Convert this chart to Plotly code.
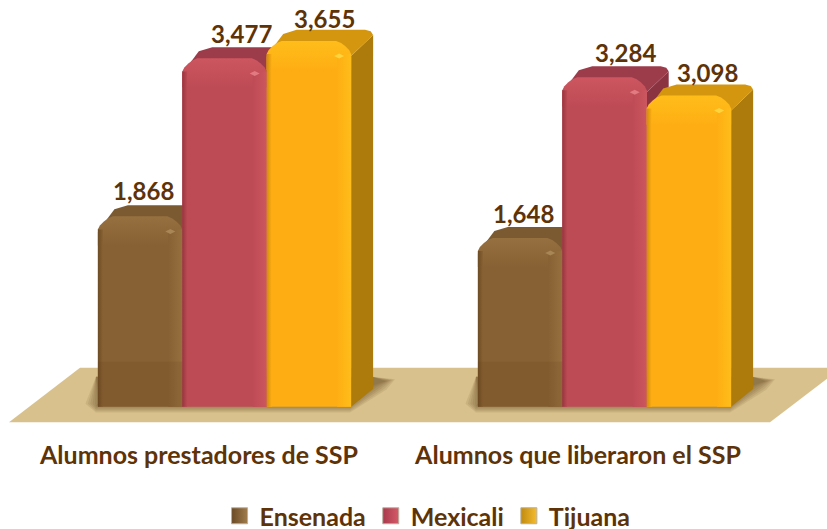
import plotly.graph_objects as go

categories = ["Alumnos prestadores de SSP", "Alumnos que liberaron el SSP"]
series_names = ["Ensenada", "Mexicali", "Tijuana"]
ensenada = [1868, 1648]
mexicali = [3477, 3284]
tijuana = [3655, 3098]
series_values = [ensenada, mexicali, tijuana]

front = ["#876133", "#bd4b55", "#feae13"]
lighter = ["#96703f", "#cd5660", "#ffbd1a"]
darker = ["#6d4c24", "#97343f", "#d08c0c"]
glint = ["#a98656", "#e27a82", "#ffd43c"]
top_col = ["#7b5a31", "#9c3c4a", "#d4960f"]
side_col = ["#6d4f2a", "#8c3342", "#ad7b0b"]
swatch = ["#6b4a25", "#a83a4c", "#c08a10"]
swatch_light = ["#a07c4c", "#d65a68", "#f5bc2e"]
text_col = "#5e3308"
font = "Lato"

W, H = 827, 529
PLOT_H = 492           # plot height left once the legend has reserved its room
AXIS_PX = 437          # pixel row of the x axis line
ZERO_PX = 406          # pixel row of value 0
PX_PER_UNIT_Y = 0.098
PX_PER_GROUP = 380
G0_PX = 224.5
BAR_PX = 84.4
DX_PX, DY_PX = 22, 18

xr = [-G0_PX / PX_PER_GROUP, (W - G0_PX) / PX_PER_GROUP]
yr = [-(PLOT_H - ZERO_PX) / PX_PER_UNIT_Y, ZERO_PX / PX_PER_UNIT_Y]
ux = 1 / PX_PER_GROUP
uy = 1 / PX_PER_UNIT_Y
w = BAR_PX * ux
dx, dy = DX_PX * ux, DY_PX * uy


def paper(pts):
    return "M" + "L".join(f"{x / W:.5f},{1 - y / PLOT_H:.5f}" for x, y in pts) + "Z"


shapes = [dict(type="path", xref="paper", yref="paper", layer="below", line_width=0,
               fillcolor="#d8c18d",
               path=paper([(9, 421.5), (770, 421.5), (827, 378), (827, 367), (80, 367)]))]
# soft contact shadows on the floor
for g0 in (0, 380):
    for k in range(7):
        g = 7 - k * 1.6
        shapes.append(dict(type="path", xref="paper", yref="paper", layer="below", line_width=0,
                           fillcolor="rgba(85,55,20,0.10)",
                           path=paper([(g0 + 96 - g * 1.5, 403), (g0 + 96, 406 + g * .8), (g0 + 350, 406 + g * .8),
                                       (g0 + 376 + g * 1.5, 386 + g * .4), (g0 + 388 + g, 380 - g * .2),
                                       (g0 + 372, 376), (g0 + 96, 376)])))

fig = go.Figure()

# depth faces (lowest layer, drawn back to front)
for s, name in enumerate(series_names):
    for g, v in enumerate(series_values[s]):
        x0 = g + (s - 1) * w - w / 2
        x1 = x0 + w
        c = 8 * ux
        cy = 5 * uy
        fig.add_trace(go.Scatter(
            x=[x1, x1 + dx, x1 + dx, x1], y=[0, dy, v + dy - cy, v - 8 * uy], mode="lines", fill="toself",
            fillcolor=side_col[s], line=dict(width=0), showlegend=False, hoverinfo="skip"))
        fig.add_trace(go.Scatter(
            x=[x0, x1, x1 + dx, x1 + dx - c * .3, x1 + dx - c, x0 + dx + c, x0 + dx * .75],
            y=[v - 8 * uy, v - 8 * uy, v + dy - cy, v + dy - cy * .3, v + dy, v + dy, v + dy - 4 * uy],
            mode="lines", fill="toself", fillcolor=top_col[s], line=dict(width=0),
            showlegend=False, hoverinfo="skip"))

# legend keys
for s, name in enumerate(series_names):
    fig.add_trace(go.Scatter(
        x=[None], y=[None], mode="markers", name=name, showlegend=True,
        marker=dict(symbol="square", size=16, color=swatch[s],
                    gradient=dict(type="horizontal", color=swatch_light[s]),
                    line=dict(width=1, color="#b8b0a0"))))

# front faces: the real bars, on an overlay above the depth faces
for s, name in enumerate(series_names):
    fig.add_trace(go.Bar(
        x=[0, 1], y=series_values[s], name=name, xaxis="x2", yaxis="y2", showlegend=False,
        marker=dict(color=front[s], cornerradius=9, line=dict(width=0))))

# bevel shading above the front faces
for s, name in enumerate(series_names):
    for g, v in enumerate(series_values[s]):
        x0 = g + (s - 1) * w - w / 2
        x1 = x0 + w
        ry = 6 * uy
        band = 22 * uy
        cap = [(0, -6), (2, -2), (6, 2), (10, 5), (15, 7)]
        left = [(x0 + a * ux, v + b * uy) for a, b in cap]
        right = [(x1 - a * ux, v + b * uy) for a, b in reversed(cap)]
        band_pts = left + right + [(x1, v - band), (x0, v - band)]
        strips = [
            ([p[0] for p in band_pts], [p[1] for p in band_pts], "vertical", [front[s], lighter[s]]),
            ([x0, x0 + 5 * ux, x0 + 5 * ux, x0], [v - ry, v - ry, 0, 0], "horizontal", [darker[s], front[s]]),
            ([x1 - 14 * ux, x1, x1, x1 - 14 * ux], [v - ry, v - ry, 0, 0], "horizontal", [front[s], lighter[s]]),
        ]
        for xs, ys, kind, cols in strips:
            fig.add_trace(go.Scatter(
                x=xs, y=ys, mode="lines", fill="toself", line=dict(width=0),
                xaxis="x3", yaxis="y3", showlegend=False, hoverinfo="skip",
                fillgradient=dict(type=kind, colorscale=[[0, cols[0]], [1, cols[1]]])))
        # small specular glint near the right shoulder
        gx, gy = x1 - 12 * ux, v - 8 * uy
        fig.add_trace(go.Scatter(
            x=[gx - 5 * ux, gx, gx + 5 * ux, gx], y=[gy, gy + 2.5 * uy, gy, gy - 2.5 * uy],
            mode="lines", fill="toself", fillcolor=glint[s], line=dict(width=0),
            xaxis="x3", yaxis="y3", showlegend=False, hoverinfo="skip"))
        if s == 0:
            fig.add_trace(go.Scatter(
                x=[x0, x1, x1, x0], y=[0, 0, 45 * uy, 45 * uy], mode="lines", fill="toself",
                fillcolor="rgba(90,55,15,0.13)", line=dict(width=0),
                xaxis="x3", yaxis="y3", showlegend=False, hoverinfo="skip"))

# value labels
label_shift = [[3, 3], [17, 21], [16, 19]]
label_up = [[33, 31], [32, 32], [29, 30]]
annotations = []
for s in range(3):
    for g, v in enumerate(series_values[s]):
        annotations.append(dict(
            x=g + (s - 1) * w, y=v, xref="x", yref="y", text=f"{v:,}", showarrow=False,
            xshift=label_shift[s][g], yshift=label_up[s][g],
            font=dict(family=font, size=24, color=text_col, weight=700)))

hidden = dict(visible=False, showgrid=False, zeroline=False, fixedrange=True)
fig.update_layout(
    width=W, height=H, autosize=False,
    margin=dict(l=0, r=0, t=0, b=0, pad=0),
    paper_bgcolor="white", plot_bgcolor="rgba(0,0,0,0)",
    barmode="group", bargap=1 - 3 * w, bargroupgap=0,
    shapes=shapes, annotations=annotations,
    xaxis=dict(range=xr, tickvals=[-25.5 / PX_PER_GROUP, 1 - 26.5 / PX_PER_GROUP], ticktext=categories,
               anchor="free", position=1 - AXIS_PX / PLOT_H, automargin=False,
               ticks="", showgrid=False, zeroline=False, showline=False,
               tickfont=dict(family=font, size=25, color=text_col, weight=700)),
    yaxis=dict(range=yr, **hidden),
    xaxis2=dict(range=xr, overlaying="x", **hidden),
    yaxis2=dict(range=yr, overlaying="y", **hidden),
    xaxis3=dict(range=xr, overlaying="x", **hidden),
    yaxis3=dict(range=yr, overlaying="y", **hidden),
    legend=dict(orientation="h", x=0.517, xanchor="center", y=1 - 516 / H, yanchor="middle",
                xref="container", yref="container",
                bgcolor="rgba(0,0,0,0)", font=dict(family=font, size=25, color=text_col, weight=700)),
    showlegend=True,
)

fig.write_html("out.html", config={"displayModeBar": False},
               post_script="document.body.style.margin='0';document.documentElement.style.overflow='hidden';")
